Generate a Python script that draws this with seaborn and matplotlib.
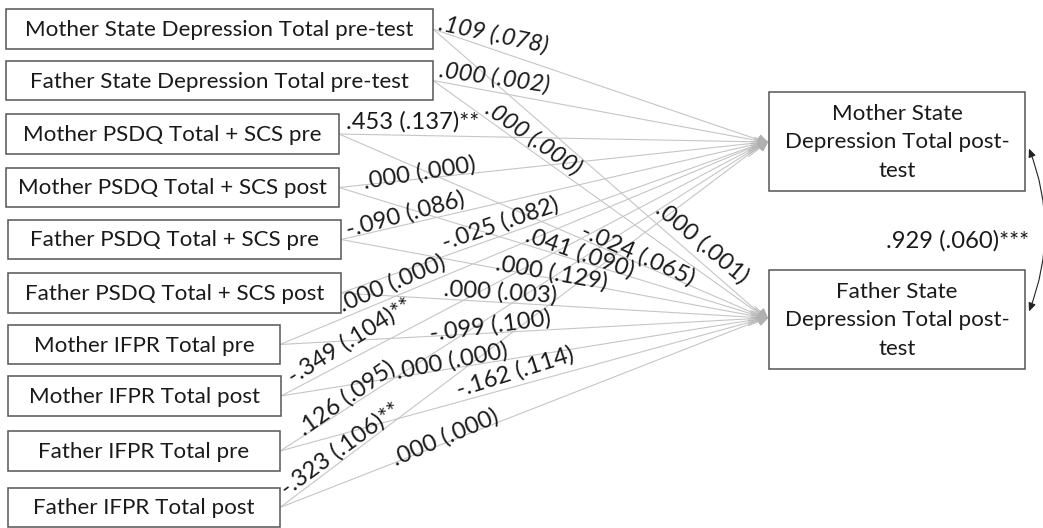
import numpy as np
import pandas as pd
import matplotlib
matplotlib.use("Agg")
import matplotlib.pyplot as plt
import seaborn as sns
from matplotlib.patches import Rectangle, FancyArrowPatch

# ---------------- data ----------------
source_labels = [
    "Mother State Depression Total pre-test",
    "Father State Depression Total pre-test",
    "Mother PSDQ Total + SCS pre",
    "Mother PSDQ Total + SCS post",
    "Father PSDQ Total + SCS pre",
    "Father PSDQ Total + SCS post",
    "Mother IFPR Total pre",
    "Mother IFPR Total post",
    "Father IFPR Total pre",
    "Father IFPR Total post",
]
target_labels = [
    "Mother State\nDepression Total post-\ntest",
    "Father State\nDepression Total post-\ntest",
]
path_source = [0, 0, 1, 1, 2, 2, 3, 3, 4, 4, 5, 5, 6, 6, 7, 7, 8, 8, 9, 9]
path_target = [0, 1, 0, 1, 0, 1, 0, 1, 0, 1, 0, 1, 0, 1, 0, 1, 0, 1, 0, 1]
path_coef = [
    ".109 (.078)", ".000 (.001)",
    ".000 (.002)", ".000 (.000)",
    ".453 (.137)**", "-.024 (.065)",
    ".000 (.000)", ".041 (.090)",
    "-.090 (.086)", ".000 (.129)",
    "-.025 (.082)", ".000 (.003)",
    ".000 (.000)", "-.099 (.100)",
    "-.349 (.104)**", ".000 (.000)",
    ".126 (.095)", "-.162 (.114)",
    "-.323 (.106)**", ".000 (.000)",
]
covariance_label = ".929 (.060)***"

# ---------------- layout (pixel canvas) ----------------
W, H = 1043, 528
src_x0 = [6, 6, 6, 6, 8, 8, 8, 8, 8, 8]
src_x1 = [433, 433, 339, 339, 341, 341, 280, 281, 280, 280]
src_y0 = [9, 61, 114, 168, 220, 273, 325, 376, 431, 488]
src_y1 = [49, 100, 154, 207, 259, 313, 364, 416, 471, 527]
tgt_x0 = [769, 769]
tgt_x1 = [1025, 1025]
tgt_y0 = [92, 270]
tgt_y1 = [191, 369]
tgt_anchor_y = [142, 318]

label_x = [494, 702, 494, 533, 413, 638, 420, 580, 405, 552,
           500, 500, 392, 490, 350, 452, 346, 515, 341, 445]
label_y = [35, 243, 78, 139, 122, 255, 173, 253, 214, 273,
           224, 292, 283, 326, 341, 361, 398, 372, 449, 437]
label_rot = [-12, -40, -8, -35, 0, -24, 9, -19, 15, -10,
             19, -3.5, 23, 7.5, 32, 11, 35, 17.5, 36, 23]
label_italic = [True, False, True, True] + [False] * 16
cov_xy = (958, 241)

LINE_C = "#c6c6c6"
HEAD_C = "#b0b0b0"
BOX_EC = "#555555"
TXT_C = "#1a1a1a"

sns.set_theme(style="white")
plt.rcParams["font.family"] = ["Lato", "DejaVu Sans"]

fig = plt.figure(figsize=(W / 100, H / 100), dpi=100)
ax = fig.add_axes([0, 0, 1, 1])

# fit font sizes to reference text widths
renderer = fig.canvas.get_renderer()
def fit_size(s, target_px, **kw):
    t = ax.text(0, 0, s, fontsize=10, **kw)
    w = t.get_window_extent(renderer=renderer).width
    t.remove()
    return 10 * target_px / w

box_fs = fit_size(source_labels[0], 390)
lab_fs = fit_size(covariance_label, 143)

# path lines through seaborn
rows = []
for i, (s, t) in enumerate(zip(path_source, path_target)):
    rows.append({"path": i, "x": src_x1[s], "y": (src_y0[s] + src_y1[s]) / 2})
    rows.append({"path": i, "x": tgt_x0[t] - 4, "y": tgt_anchor_y[t]})
df = pd.DataFrame(rows)
sns.lineplot(data=df, x="x", y="y", units="path", estimator=None, sort=False,
             color=LINE_C, lw=0.8, ax=ax, legend=False)

# arrowheads
for i, (s, t) in enumerate(zip(path_source, path_target)):
    xs, ys = src_x1[s], (src_y0[s] + src_y1[s]) / 2
    xe, ye = tgt_x0[t] - 1, tgt_anchor_y[t]
    ax.annotate("", xy=(xe, ye), xytext=(xe - 0.04 * (xe - xs), ye - 0.04 * (ye - ys)),
                arrowprops=dict(arrowstyle="-|>,head_length=0.6,head_width=0.3",
                                color=HEAD_C, lw=0.6, shrinkA=0, shrinkB=0,
                                mutation_scale=10))

# boxes
for i, s in enumerate(source_labels):
    ax.add_patch(Rectangle((src_x0[i], src_y0[i]), src_x1[i] - src_x0[i], src_y1[i] - src_y0[i],
                           facecolor="white", edgecolor=BOX_EC, lw=1.1, zorder=3))
    ax.text((src_x0[i] + src_x1[i]) / 2, (src_y0[i] + src_y1[i]) / 2 + 1, s,
            ha="center", va="center", fontsize=box_fs, color=TXT_C, zorder=4)
for i, s in enumerate(target_labels):
    ax.add_patch(Rectangle((tgt_x0[i], tgt_y0[i]), tgt_x1[i] - tgt_x0[i], tgt_y1[i] - tgt_y0[i],
                           facecolor="white", edgecolor=BOX_EC, lw=1.1, zorder=3))
    ax.text((tgt_x0[i] + tgt_x1[i]) / 2, (tgt_y0[i] + tgt_y1[i]) / 2 + 1, s,
            ha="center", va="center", fontsize=box_fs, color=TXT_C, zorder=4,
            linespacing=1.55)

# path coefficient labels
for i, c in enumerate(path_coef):
    ax.text(label_x[i], label_y[i], c, ha="center", va="center",
            rotation=label_rot[i], rotation_mode="anchor", fontsize=lab_fs,
            style="italic" if label_italic[i] else "normal", color=TXT_C, zorder=5)

# covariance
ax.add_patch(FancyArrowPatch((1028, tgt_anchor_y[0] + 4), (1028, tgt_anchor_y[1] - 4),
                             arrowstyle="<|-|>,head_length=0.5,head_width=0.22",
                             connectionstyle="arc3,rad=-0.2", color="#222222",
                             lw=0.8, mutation_scale=10, zorder=6))
ax.text(cov_xy[0], cov_xy[1], covariance_label, ha="center", va="center",
        fontsize=lab_fs, color=TXT_C)

ax.set_xlim(0, W)
ax.set_ylim(H, 0)
ax.axis("off")
fig.savefig("out.png", dpi=100, facecolor="white")
